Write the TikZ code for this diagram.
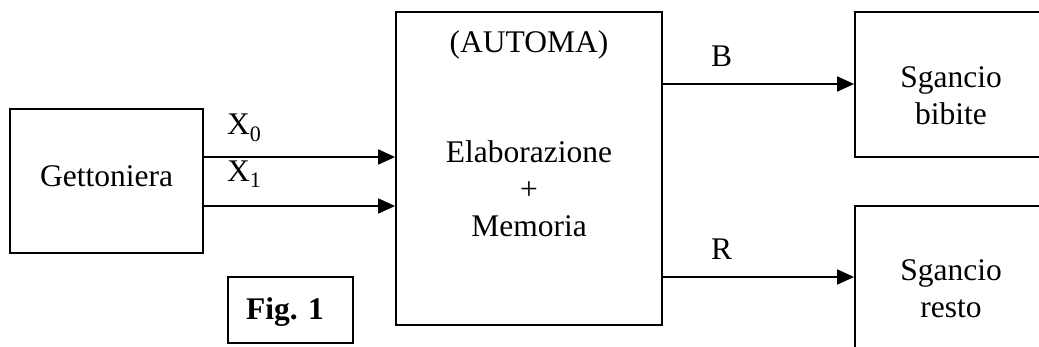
\documentclass[tikz,border=0pt]{standalone}
\usepackage{fontspec}
\setmainfont{Liberation Serif}
\usetikzlibrary{arrows.meta}
\tikzset{
  blk/.style={draw, line width=1.8pt, inner sep=0pt},
  arr/.style={line width=1.8pt, -{Triangle[length=17pt,width=15pt]}},
  lbl/.style={inner sep=0pt, align=center, font=\fontsize{31.5}{37}\selectfont}
}
\begin{document}
\begin{tikzpicture}[x=1pt,y=-1pt]
\useasboundingbox (0,0) rectangle (1039,347);
\clip (0,0) rectangle (1039,347);
\node[blk, minimum width=193pt, minimum height=144pt] (get) at (106.5,181) {};
\node[lbl, anchor=base] (gettxt) at (106.5,187) {Gettoniera};
\node[blk, minimum width=266pt, minimum height=313pt] (aut) at (529,168.5) {};
\node[lbl, anchor=base] (auttitle) at (529,53) {(AUTOMA)};
\node[lbl, anchor=base] (autbody) at (529,237) {Elaborazione\\+\\Memoria};
\node[blk, minimum width=192pt, minimum height=145pt] (bib) at (951,84.5) {};
\node[lbl, anchor=base] (bibtxt) at (951,125) {Sgancio\\bibite};
\node[blk, minimum width=192pt, minimum height=145pt] (res) at (951,278.5) {};
\node[lbl, anchor=base] (restxt) at (951,318) {Sgancio\\resto};
\node[blk, minimum width=125pt, minimum height=66pt] (fig) at (290.5,310) {};
\node[lbl, anchor=base, font=\fontsize{31.5}{37}\selectfont\bfseries] (figtxt) at (285,320) {Fig. 1};
\coordinate (y0) at (0,157);
\coordinate (y1) at (0,206);
\coordinate (yb) at (0,84);
\coordinate (yr) at (0,277);
\draw[arr] (get.east |- y0) -- (aut.west |- y0);
\draw[arr] (get.east |- y1) -- (aut.west |- y1);
\draw[arr] (aut.east |- yb) -- (bib.west |- yb);
\draw[arr] (aut.east |- yr) -- (res.west |- yr);
\node[lbl, anchor=base west] (lx0) at (227,135) {X\textsubscript{0}};
\node[lbl, anchor=base west] (lx1) at (227,182) {X\textsubscript{1}};
\node[lbl, anchor=base west] (lb) at (711,67) {B};
\node[lbl, anchor=base west] (lr) at (711,260) {R};
\end{tikzpicture}
\end{document}
